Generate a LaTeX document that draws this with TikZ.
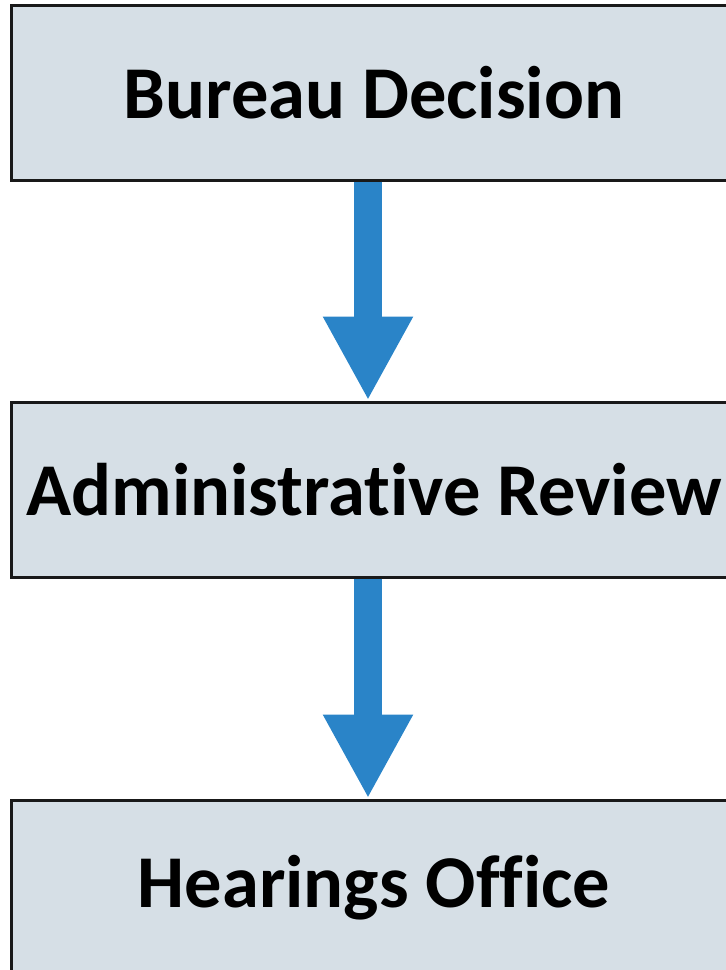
\documentclass[tikz,border=0pt]{standalone}
\usepackage{fontspec}
\setmainfont{Carlito}[Ligatures=NoCommon]
\usetikzlibrary{positioning,arrows.meta}
\definecolor{boxfill}{HTML}{D6DFE6}
\definecolor{arrowblue}{HTML}{2A84C8}
\begin{document}
\begin{tikzpicture}[
	stage/.style={draw=black!90, line width=3pt, fill=boxfill, minimum width=726pt,
		minimum height=175pt, inner sep=0pt, font=\fontsize{74.5}{90}\selectfont\bfseries},
	flow/.style={arrowblue, line width=28pt, -{Triangle[length=84pt,width=84pt]}}
	]
	% Frame
	\useasboundingbox (0,0) rectangle (726pt,-970pt);
	
	% Boxes
	\node[stage] (bureau) at (374pt,-92.5pt) {Bureau Decision};
	\node[stage, below=219pt of bureau] (review) {Administrative Review};
	\node[stage, below=220pt of review] (hearings) {Hearings Office};
	
	% Arrows (a little left of the box centre)
	\draw[flow] ([xshift=-6pt]bureau.south) -- ([xshift=-6pt]review.north);
	\draw[flow] ([xshift=-6pt]review.south) -- ([xshift=-6pt]hearings.north);
\end{tikzpicture}
\end{document}
